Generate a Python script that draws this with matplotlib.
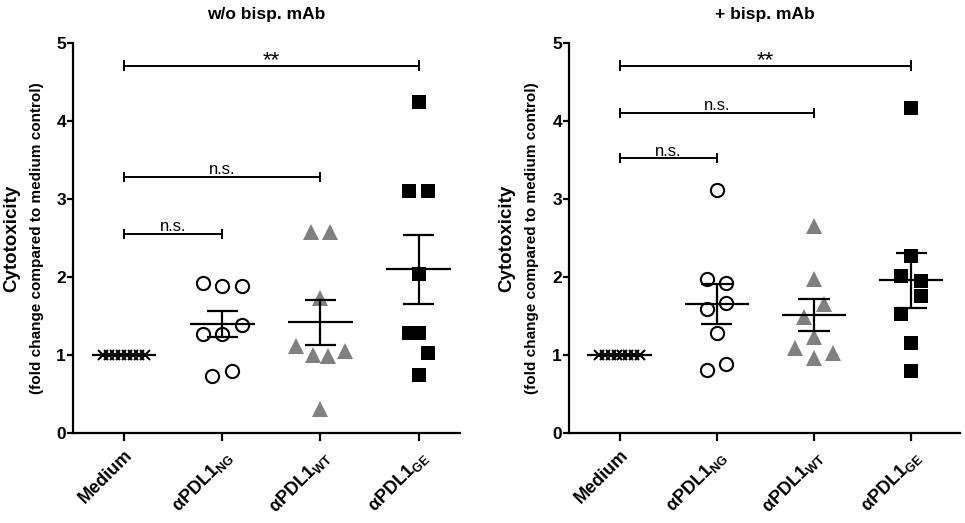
import matplotlib
matplotlib.use('Agg')
import matplotlib.pyplot as plt
import numpy as np

plt.rcParams['font.family'] = ['Liberation Sans', 'DejaVu Sans']
plt.rcParams['mathtext.fontset'] = 'custom'
plt.rcParams['mathtext.rm'] = 'Liberation Sans:bold'
plt.rcParams['mathtext.it'] = 'Liberation Sans:bold'
plt.rcParams['mathtext.bf'] = 'Liberation Sans:bold'

# Kategorien
grupos = ['Medium', 'αPDL1$_{\\mathrm{NG}}$', 'αPDL1$_{\\mathrm{WT}}$', 'αPDL1$_{\\mathrm{GE}}$']

# Werte ohne bisp. mAb
sem_medium = [1, 1, 1, 1, 1, 1, 1, 1]
sem_ng = [1.92, 1.89, 1.89, 1.27, 1.27, 1.39, 0.73, 0.80]
sem_wt = [2.58, 2.58, 1.73, 1.11, 1.00, 0.99, 1.05, 0.31]
sem_ge = [4.24, 3.10, 3.10, 2.04, 1.28, 1.28, 1.02, 0.75]

# Werte mit bisp. mAb
com_medium = [1, 1, 1, 1, 1, 1, 1, 1]
com_ng = [3.12, 1.97, 1.92, 1.59, 1.67, 1.28, 0.81, 0.88]
com_wt = [2.65, 1.98, 1.66, 1.49, 1.23, 1.09, 0.96, 1.03]
com_ge = [4.17, 2.27, 2.01, 1.95, 1.75, 1.53, 1.16, 0.80]

# horizontale Verschiebung der Punkte (Streuung)
desl_medium = [-0.21, -0.15, -0.09, -0.03, 0.03, 0.09, 0.15, 0.21]
desl_sem_ng = [-0.2, 0, 0.2, -0.2, 0, 0.2, -0.1, 0.1]
desl_sem_wt = [-0.1, 0.1, 0, -0.25, -0.08, 0.08, 0.25, 0]
desl_sem_ge = [0, -0.1, 0.1, 0, -0.1, 0, 0.1, 0]
desl_com_ng = [0, -0.1, 0.1, -0.1, 0.1, 0, -0.1, 0.1]
desl_com_wt = [0, 0, 0.1, -0.1, 0, -0.2, 0, 0.2]
desl_com_ge = [0, 0, -0.1, 0.1, 0.1, -0.1, 0, 0]

# Signifikanz: (von, bis, hoehe, text)
sig_sem = [(0, 3, 4.71, '**'), (0, 2, 3.28, 'n.s.'), (0, 1, 2.55, 'n.s.')]
sig_com = [(0, 3, 4.71, '**'), (0, 2, 4.10, 'n.s.'), (0, 1, 3.52, 'n.s.')]

estilos = [
    dict(marker='x', color='black', ms=7, mew=1.5, mfc='black'),
    dict(marker='o', color='black', ms=9.5, mew=1.5, mfc='white'),
    dict(marker='^', color='#808080', ms=11.5, mew=0, mfc='#808080'),
    dict(marker='s', color='black', ms=10.5, mew=0, mfc='black'),
]

fig = plt.figure(figsize=(9.65, 5.23), dpi=100)
ax1 = fig.add_axes([0.0756, 0.172, 0.401, 0.746])
ax2 = fig.add_axes([0.5896, 0.172, 0.405, 0.746])


def painel(ax, dados, desl, sig, titulo, xmax):
    for i, (vals, d) in enumerate(zip(dados, desl)):
        vals = np.array(vals)
        x = i + np.array(d)
        ax.plot(x, vals, linestyle='none', zorder=3, **estilos[i])
        media = vals.mean()
        erro = vals.std(ddof=1) / np.sqrt(len(vals))
        ax.hlines(media, i - 0.33, i + 0.33, color='black', lw=1.6, zorder=4)
        if erro > 0:
            ax.vlines(i, media - erro, media + erro, color='black', lw=1.6, zorder=4)
            ax.hlines([media - erro, media + erro], i - 0.16, i + 0.16, color='black', lw=1.6, zorder=4)
    for a, b, h, t in sig:
        ax.hlines(h, a, b, color='black', lw=1.4)
        ax.vlines([a, b], h - 0.065, h + 0.065, color='black', lw=1.4)
        if t == '**':
            ax.text((a + b) / 2, h - 0.01, t, ha='center', va='baseline', fontsize=16)
        else:
            ax.text((a + b) / 2, h + 0.035, t, ha='center', va='baseline', fontsize=12)
    ax.set_xlim(-0.52, xmax)
    ax.set_ylim(0, 5)
    ax.set_yticks([0, 1, 2, 3, 4, 5])
    ax.set_xticks(range(4))
    ax.set_xticklabels(grupos, rotation=45, ha='right', rotation_mode='anchor',
                       fontsize=13, fontweight='bold')
    for lbl in ax.get_yticklabels():
        lbl.set_fontweight('bold')
        lbl.set_fontsize(12.5)
    ax.spines['top'].set_visible(False)
    ax.spines['right'].set_visible(False)
    ax.spines['left'].set_linewidth(1.6)
    ax.spines['bottom'].set_linewidth(1.6)
    ax.tick_params(axis='x', length=6, width=1.6, pad=4)
    ax.tick_params(axis='y', length=4, width=1.6, pad=1)
    ax.set_title(titulo, fontsize=12.5, fontweight='bold', pad=17)
    ax.text(-0.158, 0.5, 'Cytotoxicity', transform=ax.transAxes, rotation=90,
            ha='center', va='center', fontsize=13.5, fontweight='bold')
    ax.text(-0.094, 0.5, '(fold change compared to medium control)', transform=ax.transAxes,
            rotation=90, ha='center', va='center', fontsize=11, fontweight='bold')


painel(ax1, [sem_medium, sem_ng, sem_wt, sem_ge],
       [desl_medium, desl_sem_ng, desl_sem_wt, desl_sem_ge], sig_sem, 'w/o bisp. mAb', 3.42)
painel(ax2, [com_medium, com_ng, com_wt, com_ge],
       [desl_medium, desl_com_ng, desl_com_wt, desl_com_ge], sig_com, '+ bisp. mAb', 3.5)

fig.savefig('out.png', dpi=100)
